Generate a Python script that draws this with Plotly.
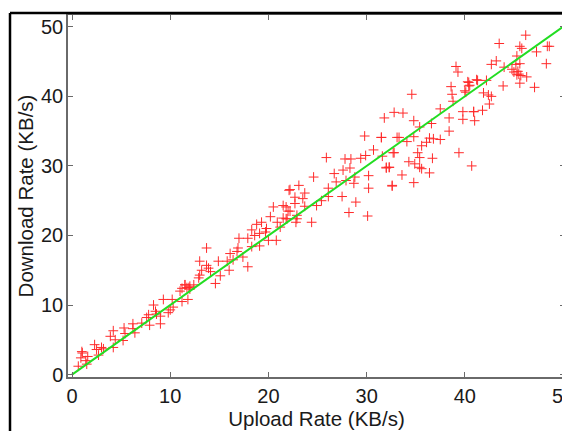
import plotly.graph_objects as go

upload = [
    0.64, 0.9, 1.05, 1.4, 1.5, 1.6, 2.3, 2.5, 3.0, 3.2, 2.7, 3.9, 4.2, 4.4, 4.2, 5.3, 5.4, 5.2,
    6.2, 6.2, 6.4, 7.1, 7.9, 7.8, 7.6, 8.3, 8.5, 8.6, 9.0, 9.0, 9.3, 9.8, 10.0, 10.2, 10.3,
    11.0, 11.2, 11.5, 11.7, 11.8, 12.0, 1.0,
    11.2, 11.5, 11.9, 12.0, 12.4, 12.9, 13.0, 13.2, 13.0, 13.7, 13.9, 14.1, 13.7, 14.6, 15.1,
    14.9, 15.8, 16.0, 16.1, 16.4, 16.8, 16.9, 17.0, 17.4, 17.9, 17.9, 18.3, 18.3, 18.6, 18.8,
    19.1, 19.1, 19.3, 19.7, 19.8, 20.0, 20.2, 20.5, 20.8, 20.9, 21.2, 21.5, 21.8, 21.8, 22.2,
    22.7, 22.8, 22.9, 22.1, 22.7,
    22.0, 21.5, 21.9, 22.9, 22.2, 23.1, 23.5, 23.7, 23.7, 24.6, 24.4, 24.9, 25.4, 25.9, 26.1,
    26.1, 26.7, 26.9, 27.5, 27.6, 27.8, 27.9, 28.3, 28.4, 28.8, 28.7, 28.9, 28.2, 29.4, 29.8,
    29.9, 30.2, 30.2, 30.1, 30.7, 31.5, 31.6, 32.0, 32.3, 32.6, 32.8, 33.1,
    34.6, 39.1, 39.3, 38.6, 38.7, 38.8, 40.4, 40.5, 40.1, 41.3, 37.5, 32.8, 33.7, 31.8, 34.8,
    35.4, 36.6, 38.4, 39.8, 40.9, 39.8, 41.0, 38.4, 31.5, 33.3, 34.8, 34.1, 36.4, 36.8, 36.1,
    37.5, 35.6, 35.2, 35.4, 32.7, 36.7, 39.4, 34.3, 34.9, 35.4, 35.6, 32.0, 32.3, 36.4, 33.6,
    40.7, 32.6, 34.8,
    46.2, 43.5, 45.6, 45.8, 48.4, 48.6, 47.3, 45.3, 43.2, 42.7, 44.0, 45.2, 45.6, 48.3, 44.8,
    45.0, 45.4, 45.5, 45.7, 45.3, 46.3, 45.6, 47.1, 43.9, 42.2, 41.2, 40.3, 40.4, 40.0, 41.9,
    42.4, 42.7, 42.5, 41.8, 40.9,
]
download = [
    1.2, 2.4, 3.1, 2.0, 1.5, 2.6, 4.3, 3.6, 3.9, 3.7, 2.8, 5.5, 6.3, 5.0, 3.9, 6.7, 5.9, 4.9,
    7.3, 6.6, 6.0, 7.4, 7.1, 8.6, 8.2, 10.0, 9.1, 8.7, 7.3, 8.4, 10.8, 8.9, 9.3, 10.8, 9.7,
    12.0, 10.5, 12.9, 12.5, 10.8, 12.3, 3.3,
    12.4, 12.9, 12.5, 12.7, 12.9, 13.9, 14.3, 15.0, 16.3, 15.7, 15.3, 14.8, 18.2, 13.1, 14.2,
    16.3, 16.3, 15.0, 17.4, 16.5, 17.7, 18.2, 19.6, 16.9, 15.5, 19.6, 20.8, 18.4, 20.0, 21.6,
    18.5, 20.3, 21.9, 20.5, 21.0, 19.3, 22.7, 24.1, 19.3, 21.9, 21.2, 24.3, 22.4, 24.1, 23.5,
    24.6, 21.9, 22.9, 26.5, 25.5,
    23.5, 22.5, 22.4, 22.4, 26.6, 27.2, 25.3, 26.1, 24.2, 28.4, 21.9, 24.3, 25.0, 31.2, 26.8,
    25.6, 28.9, 27.7, 25.6, 29.4, 31.0, 27.9, 29.7, 31.0, 28.4, 27.5, 24.8, 23.3, 31.1, 34.3,
    31.5, 28.6, 26.8, 22.8, 32.3, 34.1, 31.4, 29.7, 29.8, 27.2, 31.9, 34.1,
    40.3, 44.3, 43.5, 41.4, 40.3, 39.3, 42.0, 41.6, 40.6, 42.3, 38.2, 37.7, 37.6, 36.9, 36.5,
    35.6, 36.1, 36.9, 37.8, 37.8, 36.7, 36.5, 35.0, 34.1, 34.1, 34.2, 33.5, 34.0, 33.9, 33.4,
    33.8, 32.9, 31.9, 31.2, 31.9, 31.1, 31.9, 30.6, 30.3, 29.8, 29.6, 29.8, 29.8, 29.0, 28.7,
    30.0, 27.1, 27.6,
    48.8, 47.6, 47.2, 46.9, 47.2, 47.2, 46.4, 45.8, 45.1, 44.6, 44.2, 44.6, 44.7, 44.7, 43.9,
    43.5, 43.6, 43.2, 43.0, 43.1, 42.8, 41.9, 41.3, 41.5, 42.3, 42.4, 42.1, 41.5, 40.8, 40.5,
    40.2, 40.0, 38.9, 38.0, 37.8,
]

fit_x = [0, 52]
fit_y = [0, 52]

x_ticks = [0, 10, 20, 30, 40, 50]
y_ticks = [0, 10, 20, 30, 40, 50]

FONT = "Liberation Sans, Arial, sans-serif"

fig = go.Figure()
fig.add_trace(go.Scatter(
    x=upload, y=download, mode="markers",
    marker=dict(symbol="cross-thin", size=7, line=dict(width=1, color="#ff2a2a")),
    showlegend=False,
))
fig.add_trace(go.Scatter(
    x=fit_x, y=fit_y, mode="lines",
    line=dict(color="#22dd22", width=2),
    showlegend=False,
))

axis_common = dict(
    showline=True, linecolor="#6a6a6a", linewidth=1.5, mirror="ticks",
    ticks="inside", ticklen=5, tickcolor="#6a6a6a", tickwidth=1,
    showgrid=False, zeroline=False, automargin=False, ticklabeloverflow="allow",
    tickfont=dict(family=FONT, size=20, color="#1a1a1a"),
)

# page body adds an 8px offset; figure is sized so the visible window matches
fig.update_layout(
    width=562, height=423,
    margin=dict(l=60, r=5, t=7, b=54),
    paper_bgcolor="white", plot_bgcolor="white",
    xaxis=dict(range=[-0.41, 50.2], tickvals=x_ticks, ticklabelstandoff=0,
               title=dict(text="Upload Rate (KB/s)", standoff=5,
                          font=dict(family=FONT, size=20.5, color="#1a1a1a")),
               **axis_common),
    yaxis=dict(range=[-0.35, 51.7], tickvals=y_ticks, ticklabelstandoff=-1,
               title=dict(text="Download Rate (KB/s)", standoff=2,
                          font=dict(family=FONT, size=20.5, color="#1a1a1a")),
               **axis_common),
    shapes=[
        dict(type="line", xref="paper", yref="paper", x0=-58/497, x1=1.02, y0=1 + 2/362, y1=1 + 2/362,
             line=dict(color="black", width=2.5)),
        dict(type="line", xref="paper", yref="paper", x0=-58/497, x1=-58/497, y0=-0.2, y1=1 + 2/362,
             line=dict(color="black", width=2.5)),
    ],
)

fig.write_html("out.html")
